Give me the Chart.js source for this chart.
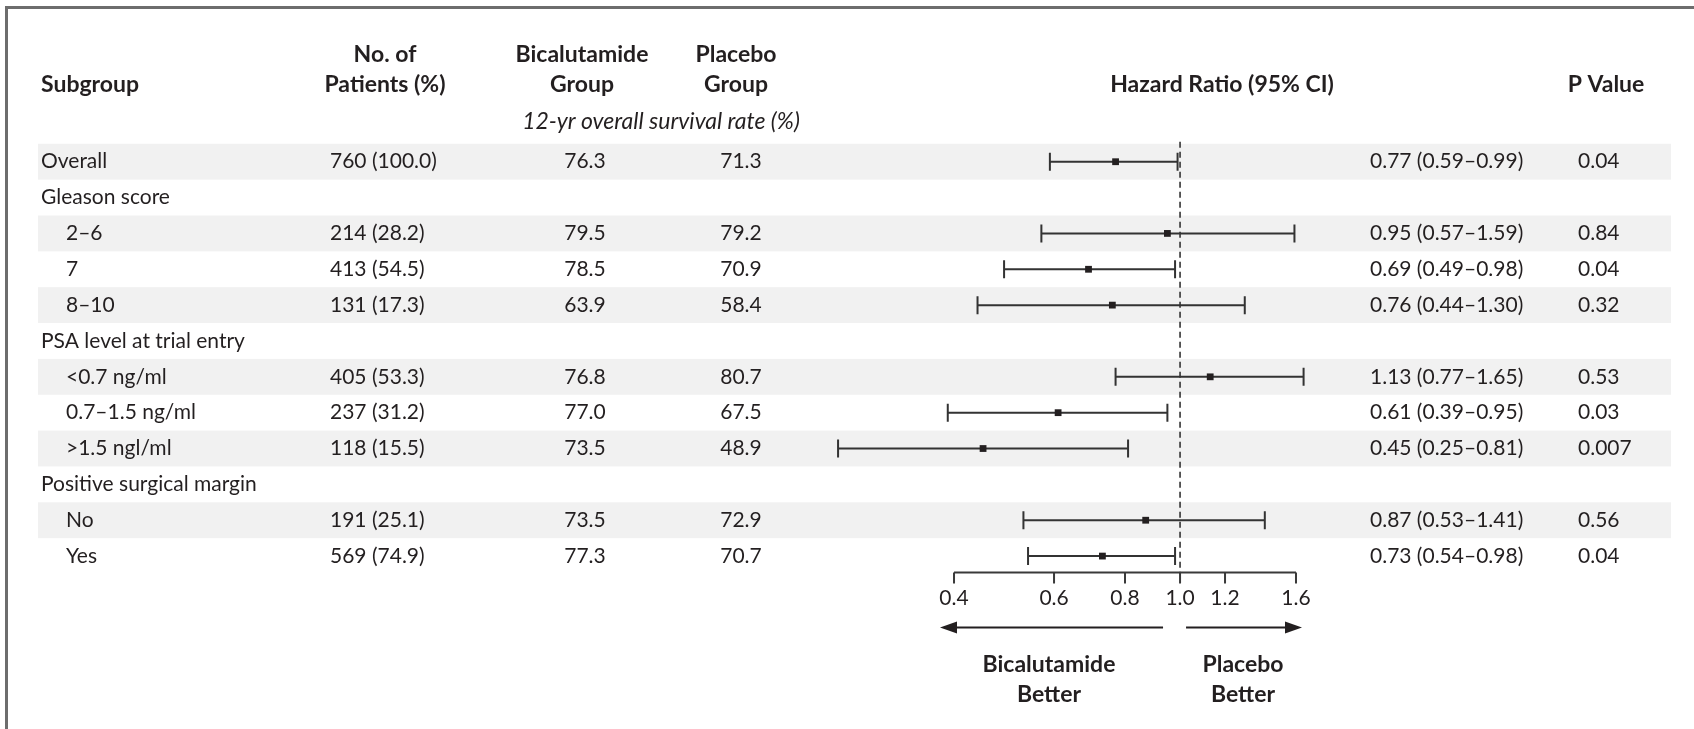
<!doctype html>
<html lang="en">
 <head>
  <meta charset="UTF-8">
  <title>Overall survival by subgroup</title>
  <script src="https://cdn.jsdelivr.net/npm/chart.js@4"></script>
  <style>
   body { margin: 0; background: #fff; }
   canvas { display: block; }
  </style>
 </head>
 <body>
  <canvas id="forest" width="1694" height="729"></canvas>
  <script>
var subgroups = ['Overall', 'Gleason score', '2–6', '7', '8–10', 'PSA level at trial entry',
  '<0.7 ng/ml', '0.7–1.5 ng/ml', '>1.5 ngl/ml', 'Positive surgical margin', 'No', 'Yes'];
var indented = [0, 0, 1, 1, 1, 0, 1, 1, 1, 0, 1, 1];
var patients = ['760 (100.0)', '', '214 (28.2)', '413 (54.5)', '131 (17.3)', '',
  '405 (53.3)', '237 (31.2)', '118 (15.5)', '', '191 (25.1)', '569 (74.9)'];
var bicalutamide = ['76.3', '', '79.5', '78.5', '63.9', '', '76.8', '77.0', '73.5', '', '73.5', '77.3'];
var placebo = ['71.3', '', '79.2', '70.9', '58.4', '', '80.7', '67.5', '48.9', '', '72.9', '70.7'];
var hr = [0.77, null, 0.95, 0.69, 0.76, null, 1.13, 0.61, 0.45, null, 0.87, 0.73];
var ciLow = [0.59, null, 0.57, 0.49, 0.44, null, 0.77, 0.39, 0.25, null, 0.53, 0.54];
var ciHigh = [0.99, null, 1.59, 0.98, 1.30, null, 1.65, 0.95, 0.81, null, 1.41, 0.98];
var pValues = ['0.04', '', '0.84', '0.04', '0.32', '', '0.53', '0.03', '0.007', '', '0.56', '0.04'];
var shadedRows = [0, 2, 4, 6, 8, 10];
var axisTicks = [0.4, 0.6, 0.8, 1.0, 1.2, 1.6];
var axisTickLabels = ['0.4', '0.6', '0.8', '1.0', '1.2', '1.6'];

var FAMILY = 'Lato, "Liberation Sans", sans-serif';
var REG = '21px ' + FAMILY;
var BOLD = 'bold 23px ' + FAMILY;
var ink = '#231f20';

var points = [];
for (var i = 0; i < hr.length; i++) {
  if (hr[i] !== null) points.push({ x: hr[i], y: i });
}

function text(ctx, s, x, y, align, font) {
  ctx.font = font;
  ctx.textAlign = align;
  ctx.fillText(s, x, y);
}

function arrow(ctx, x0, x1, y) {
  var dir = x1 > x0 ? 1 : -1;
  ctx.beginPath();
  ctx.moveTo(x0, y);
  ctx.lineTo(x1 - dir * 14, y);
  ctx.stroke();
  ctx.beginPath();
  ctx.moveTo(x1, y);
  ctx.lineTo(x1 - dir * 17, y - 6);
  ctx.lineTo(x1 - dir * 17, y + 6);
  ctx.closePath();
  ctx.fill();
}

var tablePlugin = {
  id: 'table',
  beforeDatasetsDraw: function(chart) {
    var ctx = chart.ctx, x = chart.scales.x, y = chart.scales.y;
    ctx.save();

    // frame
    ctx.strokeStyle = '#6d6d6d';
    ctx.lineWidth = 3;
    ctx.beginPath();
    ctx.moveTo(6.5, 729);
    ctx.lineTo(6.5, 7.5);
    ctx.lineTo(1694, 7.5);
    ctx.stroke();

    // shaded rows
    ctx.fillStyle = '#f1f1f1';
    shadedRows.forEach(function(r) {
      var t = y.getPixelForValue(r - 0.5), b = y.getPixelForValue(r + 0.5);
      ctx.fillRect(38, t, 1633, b - t);
    });

    // header
    ctx.fillStyle = ink;
    ctx.textBaseline = 'middle';
    text(ctx, 'Subgroup', 41, 85, 'left', BOLD);
    text(ctx, 'No. of', 385, 55, 'center', BOLD);
    text(ctx, 'Patients (%)', 385, 85, 'center', BOLD);
    text(ctx, 'Bicalutamide', 582, 55, 'center', BOLD);
    text(ctx, 'Group', 582, 85, 'center', BOLD);
    text(ctx, 'Placebo', 736, 55, 'center', BOLD);
    text(ctx, 'Group', 736, 85, 'center', BOLD);
    text(ctx, '12-yr overall survival rate (%)', 661, 122, 'center', 'italic 23px ' + FAMILY);
    text(ctx, 'Hazard Ratio (95% CI)', 1222, 85, 'center', BOLD);
    text(ctx, 'P Value', 1606, 85, 'center', BOLD);

    // table body
    for (var i = 0; i < subgroups.length; i++) {
      var py = y.getPixelForValue(i);
      text(ctx, subgroups[i], indented[i] ? 66 : 41, py, 'left', REG);
      text(ctx, patients[i], 330, py, 'left', REG);
      text(ctx, bicalutamide[i], 585, py, 'center', REG);
      text(ctx, placebo[i], 741, py, 'center', REG);
      if (hr[i] !== null) {
        var s = hr[i].toFixed(2) + ' (' + ciLow[i].toFixed(2) + '–' + ciHigh[i].toFixed(2) + ')';
        text(ctx, s, 1370, py, 'left', REG);
      }
      text(ctx, pValues[i], 1578, py, 'left', REG);
    }

    // line of no effect
    var axisY = chart.chartArea.bottom - 1.5;
    var x1 = x.getPixelForValue(1);
    ctx.strokeStyle = '#333';
    ctx.lineWidth = 1.6;
    ctx.setLineDash([6, 4]);
    ctx.beginPath();
    ctx.moveTo(x1, y.getPixelForValue(-0.5) - 2);
    ctx.lineTo(x1, axisY);
    ctx.stroke();
    ctx.setLineDash([]);

    // confidence intervals
    ctx.lineWidth = 2;
    for (var j = 0; j < hr.length; j++) {
      if (hr[j] === null) continue;
      var cy = y.getPixelForValue(j);
      var a = x.getPixelForValue(ciLow[j]), b = x.getPixelForValue(ciHigh[j]);
      ctx.beginPath();
      ctx.moveTo(a, cy); ctx.lineTo(b, cy);
      ctx.moveTo(a, cy - 9); ctx.lineTo(a, cy + 9);
      ctx.moveTo(b, cy - 9); ctx.lineTo(b, cy + 9);
      ctx.stroke();
    }

    // axis
    var xa = x.getPixelForValue(axisTicks[0]), xb = x.getPixelForValue(axisTicks[axisTicks.length - 1]);
    ctx.strokeStyle = '#3a3a3a';
    ctx.beginPath();
    ctx.moveTo(xa, axisY); ctx.lineTo(xb, axisY);
    axisTicks.forEach(function(t) {
      var tx = x.getPixelForValue(t);
      ctx.moveTo(tx, axisY); ctx.lineTo(tx, axisY + 11);
    });
    ctx.stroke();
    axisTicks.forEach(function(t, k) {
      text(ctx, axisTickLabels[k], x.getPixelForValue(t), axisY + 26, 'center', REG);
    });

    // direction arrows
    ctx.fillStyle = ink;
    ctx.strokeStyle = ink;
    arrow(ctx, x1 - 17, xa - 14, axisY + 55);
    arrow(ctx, x1 + 6, xb + 6, axisY + 55);
    text(ctx, 'Bicalutamide', 1049, 665, 'center', BOLD);
    text(ctx, 'Better', 1049, 695, 'center', BOLD);
    text(ctx, 'Placebo', 1243, 665, 'center', BOLD);
    text(ctx, 'Better', 1243, 695, 'center', BOLD);

    ctx.restore();
  }
};

new Chart(document.getElementById('forest'), {
  type: 'scatter',
  data: {
    datasets: [{
      data: points,
      pointStyle: 'rect',
      pointRadius: 4.8,
      backgroundColor: ink,
      borderWidth: 0,
      clip: false
    }]
  },
  options: {
    responsive: false,
    animation: false,
    layout: { padding: { left: 817.5, right: 375.9, top: 143.8, bottom: 155 } },
    plugins: { legend: { display: false }, tooltip: { enabled: false } },
    scales: {
      x: { type: 'logarithmic', min: 0.23, max: 1.75, display: false },
      y: { type: 'linear', min: -0.5, max: 11.5, reverse: true, display: false }
    }
  },
  plugins: [tablePlugin]
});
  </script>
 </body>
</html>
